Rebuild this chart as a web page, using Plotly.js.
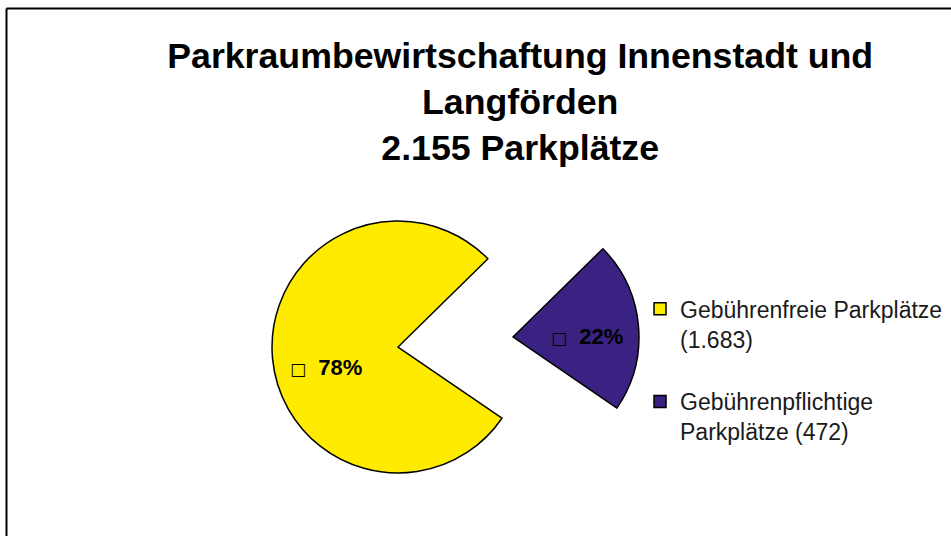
<!DOCTYPE html>
<html>
<head>
<meta charset="utf-8">
<script src="https://cdn.plot.ly/plotly-3.0.1.min.js"></script>
<style>
  html, body { margin: 0; padding: 0; background: #ffffff; }
  #chart { width: 951px; height: 536px; }
</style>
</head>
<body>
<div id="chart"></div>
<script>
// ---- data ----
const titleLines = ['Parkraumbewirtschaftung Innenstadt und', 'Langförden', '2.155 Parkplätze'];
const legendLabels = ['Gebührenfreie Parkplätze<br>(1.683)', 'Gebührenpflichtige<br>Parkplätze (472)'];
const values = [1683, 472];
const sliceColors = ['#FFEB00', '#3A2282'];

const total = values.reduce((a, b) => a + b, 0);
const pctText = values.map(v => Math.round(v / total * 100) + '%');

// label anchor points (layout positions, in pixels of the 951x536 figure)
const labelPos = [[326, 367], [587, 336]];

const trace = {
  type: 'pie',
  labels: legendLabels.map(l => l + '<br> '),
  values: values,
  sort: false,
  direction: 'clockwise',
  rotation: 124.4,
  pull: [0.458, 0.458],
  domain: { x: [0.2858, 0.6721], y: [0.0192, 0.7047] },
  marker: { colors: sliceColors, line: { color: '#000000', width: 1.5 } },
  textinfo: 'none',
  hoverinfo: 'value+percent',
  showlegend: true
};

const annotations = pctText.map((t, i) => ({
  xref: 'paper', yref: 'paper',
  x: labelPos[i][0] / 951, y: 1 - labelPos[i][1] / 536,
  xanchor: 'center', yanchor: 'middle',
  showarrow: false,
  text: '<span style="font-family:DejaVu Sans;font-size:17px">\u25A1</span>\u00A0\u00A0<b>' + t + '</b>',
  font: { family: 'Liberation Sans, Arial, sans-serif', size: 22, color: '#000000' }
}));

const layout = {
  width: 951,
  height: 536,
  margin: { l: 0, r: 0, t: 0, b: 0 },
  paper_bgcolor: '#ffffff',
  plot_bgcolor: '#ffffff',
  title: {
    text: titleLines.join('<br>'),
    font: { family: 'Liberation Sans, Arial, sans-serif', size: 35.7, color: '#000000', weight: 'bold' },
    x: 0.547, xanchor: 'center', xref: 'container',
    y: 0.874, yanchor: 'top', yref: 'container'
  },
  legend: {
    x: 0.673, xanchor: 'left',
    y: 0.464, yanchor: 'top',
    valign: 'top',
    font: { family: 'Liberation Sans, Arial, sans-serif', size: 23, color: '#1a1a1a' },
    bgcolor: 'rgba(0,0,0,0)',
    tracegroupgap: 0
  },
  annotations: annotations,
  shapes: [
    { type: 'line', xref: 'paper', yref: 'paper', x0: 6.5/951, x1: 1.05, y0: 1 - 8.5/536, y1: 1 - 8.5/536, line: { color: '#000000', width: 2 } },
    { type: 'line', xref: 'paper', yref: 'paper', x0: 6.5/951, x1: 6.5/951, y0: 1 - 8.5/536, y1: -0.05, line: { color: '#000000', width: 2 } }
  ]
};

Plotly.newPlot('chart', [trace], layout, { displayModeBar: false, responsive: false });
</script>
</body>
</html>
